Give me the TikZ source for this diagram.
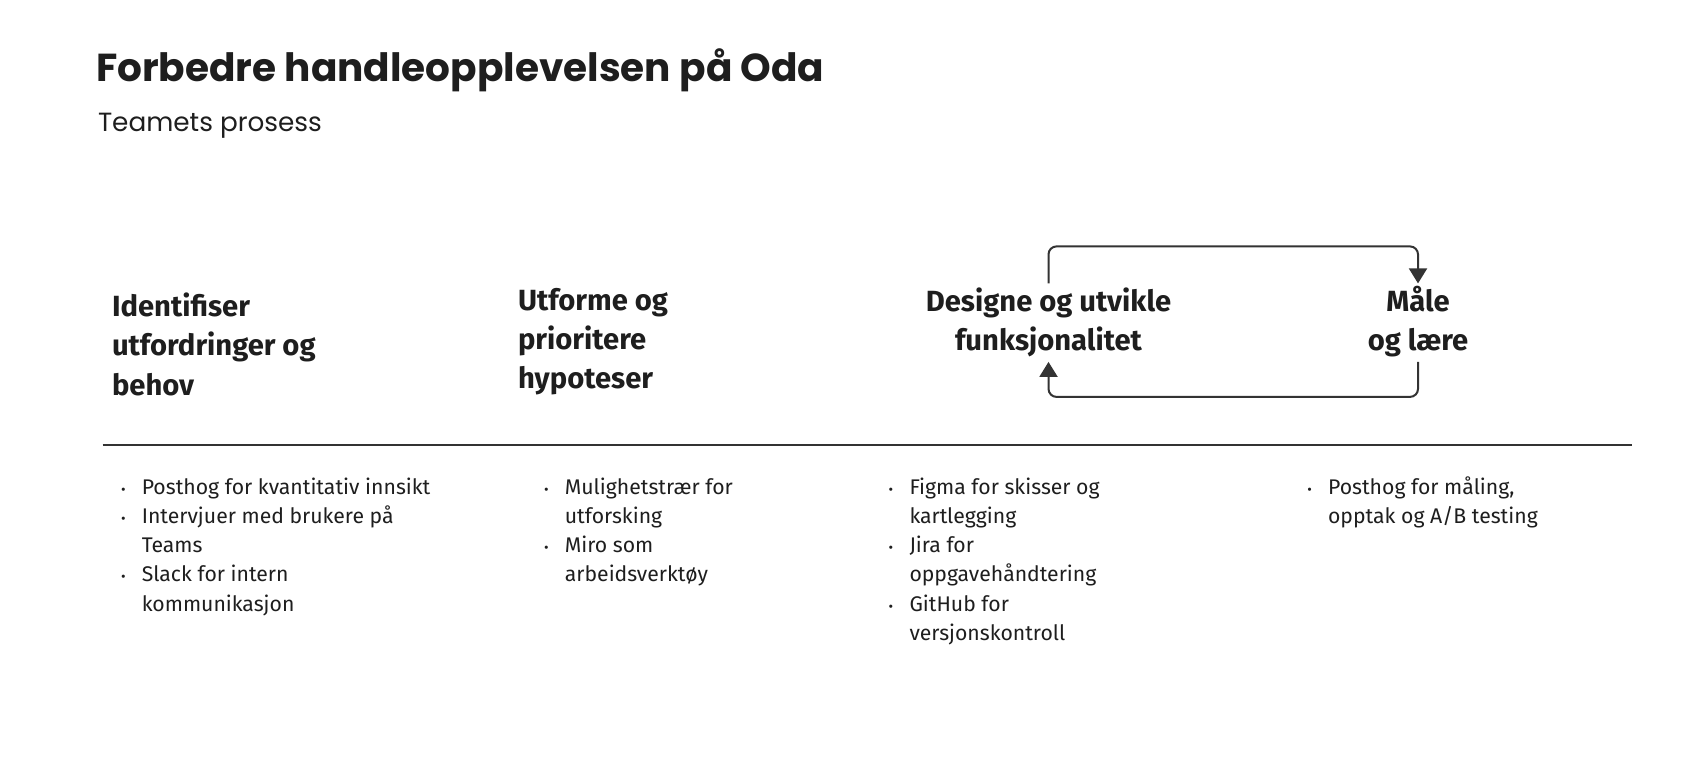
\documentclass[tikz,border=0pt]{standalone}
\usepackage{fontspec}
\setmainfont{Fira Sans}
\newfontfamily\titlefont{Poppins}
\usetikzlibrary{arrows.meta}
\definecolor{ink}{HTML}{1E1E1E}
\definecolor{wire}{HTML}{333333}
\newcommand\dotmark{\makebox[8pt]{\fontsize{14}{14}\selectfont\textbullet}}
\newcommand\toollist[1]{\begin{tabular}[t]{@{}c@{\hspace{14.5pt}}l@{}}#1\end{tabular}}

\begin{document}
\begin{tikzpicture}[x=1pt,y=-1pt,line width=2pt,
 head/.style={font=\bfseries\fontsize{29.2}{39.2}\selectfont,text=ink,inner sep=0pt,align=left,anchor=base west},
 loophead/.style={head,align=center,anchor=base,inner xsep=0pt,inner ysep=10pt,text height=56.5pt,text depth=0pt},
 items/.style={font=\fontsize{21.2}{29.3}\selectfont,text=ink,inner sep=0pt,anchor=base west},
 flow/.style={draw=wire,rounded corners=8pt,-{Triangle[width=18pt,length=15pt]}}]
 \useasboundingbox (0,0) rectangle (1700,776);
 \fill[white] (0,0) rectangle (1700,776);
 % title
 \node[anchor=base west,inner sep=0pt,text=ink,font=\titlefont\bfseries\fontsize{39}{42}\selectfont] (title) at (95,81.5) {Forbedre handleopplevelsen på Oda};
 \node[anchor=base west,inner sep=0pt,text=ink,font=\titlefont\fontsize{26.3}{30}\selectfont] (subtitle) at (97,131.7) {Teamets prosess};
 % steps (base = last line)
 \node[head] (ident) at (111,395.1) {Identifiser\\utfordringer og\\behov};
 \node[head] (utform) at (517,388.4) {Utforme og\\prioritere\\hypoteser};
 \node[loophead] (design) at (1048.5,350.9) {Designe og utvikle\\funksjonalitet};
 \node[loophead] (maale) at (1418,350.9) {Måle\\og lære};
 \draw[flow] (design.north) -- ++(0,-37) -| (maale.north);
 \draw[flow] (maale.south) -- ++(0,35) -| (design.south);
 \draw[wire] (102.7,445) -- (1632,445);
 % tools
 \node[items] (tools1) at (118.3,494) {\toollist{\dotmark & Posthog for kvantitativ innsikt\\ \dotmark & Intervjuer med brukere på\\ & Teams\\ \dotmark & Slack for intern\\ & kommunikasjon}};
 \node[items] (tools2) at (541.4,494) {\toollist{\dotmark & Mulighetstrær for\\ & utforsking\\ \dotmark & Miro som\\ & arbeidsverktøy}};
 \node[items] (tools3) at (886,494) {\toollist{\dotmark & Figma for skisser og\\ & kartlegging\\ \dotmark & Jira for\\ & oppgavehåndtering\\ \dotmark & GitHub for\\ & versjonskontroll}};
 \node[items] (tools4) at (1304.6,494) {\toollist{\dotmark & Posthog for måling,\\ & opptak og A/B testing}};
\end{tikzpicture}
\end{document}
